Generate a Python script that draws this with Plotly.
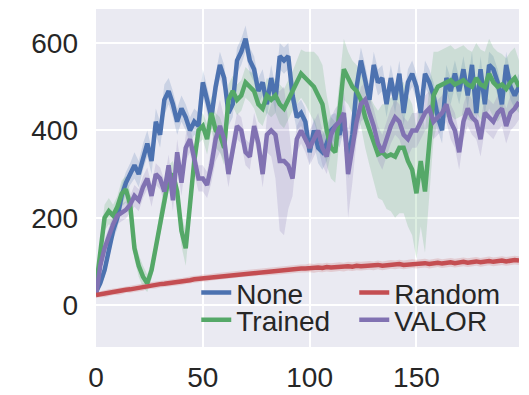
import plotly.graph_objects as go

steps = list(range(0, 200, 2))

none_vals = [30, 50, 80, 130, 170, 200, 250, 280, 300, 320,
             300, 340, 370, 330, 420, 390, 470, 490, 460, 420,
             450, 430, 400, 420, 410, 510, 470, 430, 500, 550,
             520, 440, 460, 560, 580, 610, 560, 540, 490, 510,
             460, 520, 470, 570, 560, 570, 480, 430, 440, 420,
             350, 400, 360, 350, 370, 400, 410, 390, 430, 330,
             390, 500, 560, 520, 470, 550, 510, 520, 460, 520,
             470, 530, 440, 510, 530, 500, 440, 530, 510, 480,
             430, 400, 520, 490, 530, 490, 540, 480, 550, 440,
             540, 460, 550, 540, 510, 460, 550, 500, 480, 500]

trained_vals = [40, 130, 200, 215, 205, 225, 255, 265, 230, 130,
                90, 65, 50, 80, 130, 190, 240, 290, 300, 260,
                170, 130, 230, 330, 400, 410, 380, 440, 400, 390,
                360, 470, 490, 470, 480, 510, 500, 490, 460, 450,
                480, 470, 480, 460, 450, 470, 490, 510, 530, 520,
                510, 500, 480, 460, 400, 360, 350, 450, 540, 520,
                500, 490, 470, 430, 400, 370, 345, 350, 340, 345,
                340, 360, 360, 330, 310, 256, 330, 260, 380, 480,
                500, 505, 510, 515, 505, 510, 515, 505, 500, 520,
                505, 500, 530, 510, 500, 505, 495, 510, 520, 500]

valor_vals = [20, 90, 130, 160, 185, 205, 212, 218, 230, 250,
              240, 270, 290, 250, 300, 290, 260, 320, 240, 350,
              280, 360, 380, 330, 290, 290, 275, 320, 380, 410,
              380, 300, 360, 410, 400, 350, 340, 410, 370, 300,
              390, 400, 390, 330, 330, 320, 290, 380, 400, 380,
              360, 380, 400, 360, 340, 390, 410, 420, 440, 300,
              360, 420, 460, 470, 440, 410, 370, 350, 380, 410,
              430, 420, 390, 380, 400, 400, 420, 440, 450, 420,
              430, 440, 460, 420, 400, 350, 420, 450, 430, 420,
              380, 440, 430, 420, 440, 450, 410, 440, 450, 465]

random_vals = [23, 25, 26, 28, 30, 31, 33, 35, 36, 38,
               40, 41, 44, 45, 46, 48, 49, 50, 52, 53,
               54, 56, 57, 59, 60, 62, 62, 64, 65, 66,
               67, 68, 70, 71, 72, 73, 74, 74, 76, 76,
               77, 78, 79, 80, 80, 81, 82, 83, 84, 84,
               85, 84, 86, 85, 87, 86, 87, 88, 87, 89,
               88, 90, 89, 90, 91, 90, 92, 90, 91, 93,
               92, 94, 92, 93, 95, 94, 95, 96, 94, 96,
               97, 95, 97, 98, 96, 98, 99, 97, 99, 100,
               98, 100, 101, 99, 101, 102, 100, 102, 103, 102]

none_sd = [5, 10, 15, 20, 20, 25, 25, 25, 25, 30,
           30, 30, 30, 30, 30, 30, 35, 30, 30, 30,
           30, 30, 30, 30, 30, 30, 30, 30, 30, 30,
           30, 30, 30, 30, 30, 30, 30, 30, 30, 30,
           30, 30, 30, 30, 30, 30, 30, 30, 30, 30,
           30, 30, 35, 40, 40, 35, 30, 30, 30, 40,
           30, 30, 30, 30, 30, 30, 30, 30, 30, 30,
           30, 30, 30, 30, 30, 30, 30, 30, 30, 30,
           30, 30, 30, 30, 30, 30, 30, 30, 30, 30,
           30, 30, 30, 30, 30, 30, 30, 30, 30, 30]

trained_sd = [5, 20, 30, 30, 25, 25, 30, 30, 30, 25,
              25, 25, 20, 20, 25, 30, 30, 30, 30, 30,
              35, 40, 40, 35, 30, 30, 35, 40, 40, 40,
              40, 35, 35, 35, 35, 35, 35, 40, 40, 40,
              40, 40, 40, 45, 45, 45, 45, 50, 55, 60,
              70, 80, 90, 90, 80, 70, 70, 70, 70, 60,
              60, 60, 60, 70, 80, 90, 100, 110, 120, 130,
              140, 150, 150, 150, 150, 150, 150, 140, 120, 100,
              80, 80, 80, 80, 80, 80, 80, 80, 80, 80,
              80, 80, 80, 80, 80, 70, 70, 70, 70, 60]

valor_sd = [5, 15, 20, 20, 20, 20, 20, 20, 20, 25,
            25, 25, 25, 25, 25, 25, 25, 25, 25, 30,
            30, 30, 30, 30, 30, 30, 30, 40, 50, 60,
            50, 30, 30, 30, 30, 30, 30, 30, 30, 30,
            40, 60, 100, 160, 170, 100, 40, 30, 30, 30,
            40, 40, 40, 40, 40, 40, 40, 40, 50, 100,
            80, 40, 40, 40, 40, 40, 40, 40, 40, 40,
            40, 40, 40, 40, 40, 40, 40, 40, 40, 40,
            40, 40, 40, 40, 40, 40, 40, 40, 40, 40,
            40, 40, 40, 40, 40, 40, 40, 40, 40, 40]

random_sd = [6, 7, 8, 8, 7, 8, 8, 7, 8, 8,
             8, 8, 7, 8, 8, 8, 8, 8, 8, 8,
             8, 8, 8, 8, 8, 8, 8, 8, 8, 8,
             8, 8, 8, 8, 8, 8, 8, 8, 8, 8,
             9, 9, 9, 9, 9, 9, 9, 9, 9, 9,
             10, 10, 10, 10, 10, 10, 10, 10, 10, 10,
             10, 10, 10, 10, 10, 10, 10, 10, 10, 10,
             10, 10, 10, 10, 10, 10, 10, 10, 10, 10,
             10, 10, 10, 10, 10, 10, 10, 10, 10, 10,
             10, 10, 10, 10, 10, 10, 10, 10, 10, 10]

series = [
    ("None", none_vals, none_sd, (76, 114, 176), "legend", 1),
    ("Trained", trained_vals, trained_sd, (85, 168, 104), "legend2", 3),
    ("VALOR", valor_vals, valor_sd, (129, 114, 178), "legend2", 4),
    ("Random", random_vals, random_sd, (196, 78, 82), "legend", 2),
]

fig = go.Figure()

for name, vals, sd, rgb, leg, rank in series:
    upper = [v + s for v, s in zip(vals, sd)]
    lower = [v - s for v, s in zip(vals, sd)]
    fig.add_trace(go.Scatter(
        x=steps + steps[::-1], y=upper + lower[::-1],
        fill="toself", fillcolor="rgba(%d,%d,%d,0.2)" % rgb,
        line=dict(width=0), mode="lines", showlegend=False, hoverinfo="skip"))

for name, vals, sd, rgb, leg, rank in series:
    fig.add_trace(go.Scatter(
        x=steps, y=vals, mode="lines", name=name,
        line=dict(color="rgb(%d,%d,%d)" % rgb, width=4.5),
        legend=leg, legendrank=rank))

font_family = "Liberation Sans, Arial, sans-serif"
legend_common = dict(
    orientation="h", xanchor="left", yanchor="middle",
    bgcolor="rgba(0,0,0,0)", borderwidth=0,
    entrywidth=113, entrywidthmode="pixels",
    font=dict(family=font_family, size=28, color="#262626"),
    traceorder="normal",
)

fig.update_layout(
    width=529, height=395,
    margin=dict(l=96, r=10, t=9, b=48, autoexpand=False),
    paper_bgcolor="white",
    plot_bgcolor="#EAEAF2",
    font=dict(family=font_family, size=28, color="#262626"),
    legend=dict(x=0.237, y=0.16, **legend_common),
    legend2=dict(x=0.237, y=0.08, **legend_common),
    xaxis=dict(range=[0, 198], tickvals=[0, 50, 100, 150],
               showgrid=True, gridcolor="white", gridwidth=2,
               zeroline=False, showline=False, ticks="",
               automargin=False, ticklabelstandoff=11,
               tickfont=dict(size=28, color="#262626")),
    yaxis=dict(range=[-96, 678], tickvals=[0, 200, 400, 600],
               showgrid=True, gridcolor="white", gridwidth=2,
               zeroline=False, showline=False, ticks="",
               automargin=False, ticklabelstandoff=17,
               tickfont=dict(size=28, color="#262626")),
)

fig.write_html("out.html")
